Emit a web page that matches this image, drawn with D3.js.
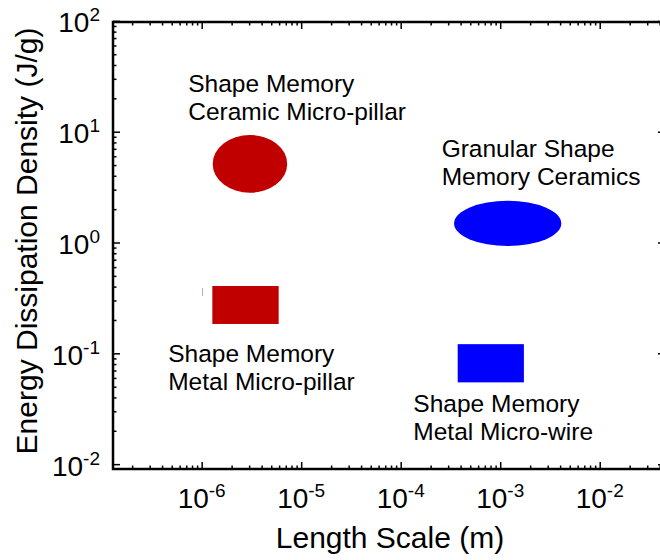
<!DOCTYPE html>
<html>
<head>
<meta charset="utf-8">
<script src="https://cdn.jsdelivr.net/npm/d3@7"></script>
<style>
  body { margin: 0; background: #fff; }
  text { font-family: "Liberation Sans", Arial, sans-serif; fill: #000; }
</style>
</head>
<body>
<div id="chart"></div>
<script>
// regions (length scale in m, energy in J/g)
var regionNames = ["Ceramic pillar", "Metal pillar", "Granular ceramics", "Metal wire"];
var regionShapes = ["ellipse", "rect", "ellipse", "rect"];
var regionColors = ["#c00000", "#c00000", "#0000ff", "#0000ff"];
var regionX = [[1.29e-6, 7.24e-6], [1.28e-6, 5.94e-6], [3.44e-4, 4.11e-3], [3.74e-4, 1.73e-3]];
var regionY = [[2.81, 9.34], [0.184, 0.405], [0.929, 2.38], [0.0547, 0.121]];

// little stray blue speck left of the red box
var speckX = [1.01e-6, 1.03e-6];
var speckY = [0.33, 0.39];

// annotation text, anchored at its first baseline in data units
var labelLines = [
  ["Shape Memory", "Ceramic Micro-pillar"],
  ["Granular Shape", "Memory Ceramics"],
  ["Shape Memory", "Metal Micro-pillar"],
  ["Shape Memory", "Metal Micro-wire"]
];
var labelX = [7.33e-7, 2.58e-4, 4.61e-7, 1.34e-4];
var labelY = [22.96, 5.94, 0.0839, 0.0297];

var xTickExp = [-6, -5, -4, -3, -2];
var yTickExp = [-2, -1, 0, 1, 2];
var xTitle = "Length Scale (m)";
var yTitle = "Energy Dissipation Density (J/g)";

var W = 660, H = 560;
var pLeft = 113, pRight = 665, pTop = 22, pBottom = 469;

var svg = d3.select("#chart").append("svg")
    .attr("width", W)
    .attr("height", H);

var x = d3.scaleLog()
    .domain([1.285e-7, 0.0453])
    .range([pLeft, pRight]);
var y = d3.scaleLog()
    .domain([0.00904, 97.7])
    .range([pBottom, pTop]);

//minor tick values 2..9 per decade
function minors(scale){
  var d = scale.domain(), out = [];
  for (var e = Math.floor(Math.log10(d[0])); e <= Math.ceil(Math.log10(d[1])); e++){
    for (var k = 2; k <= 9; k++){
      var v = k * Math.pow(10, e);
      if (v > d[0] && v < d[1]) out.push(v);
    }
  }
  return out;
}
var xMajor = xTickExp.map(function(e){ return Math.pow(10, e); });
var yMajor = yTickExp.map(function(e){ return Math.pow(10, e); });

function drawAxis(gen, tf, vals, size){
  var g = svg.append("g")
      .attr("transform", tf)
      .call(gen.tickValues(vals).tickSize(size).tickSizeOuter(0).tickFormat(""));
  g.select(".domain").remove();
  g.selectAll("line").attr("stroke", "#000").attr("stroke-width", 1.5);
}
// ticks point inward on all four sides
drawAxis(d3.axisBottom(x), "translate(0," + pBottom + ")", xMajor, -7);
drawAxis(d3.axisBottom(x), "translate(0," + pBottom + ")", minors(x), -3.5);
drawAxis(d3.axisTop(x), "translate(0," + pTop + ")", xMajor, -7);
drawAxis(d3.axisTop(x), "translate(0," + pTop + ")", minors(x), -3.5);
drawAxis(d3.axisLeft(y), "translate(" + pLeft + ",0)", yMajor, -7);
drawAxis(d3.axisLeft(y), "translate(" + pLeft + ",0)", minors(y), -3.5);
drawAxis(d3.axisRight(y), "translate(" + pRight + ",0)", yMajor, -7);
drawAxis(d3.axisRight(y), "translate(" + pRight + ",0)", minors(y), -3.5);

svg.append("rect")
    .attr("x", pLeft).attr("y", pTop)
    .attr("width", pRight - pLeft).attr("height", pBottom - pTop)
    .attr("fill", "none")
    .attr("stroke", "#000")
    .attr("stroke-width", 2.5);

// tick labels as 10 with superscript exponent
var xl = svg.append("g").selectAll("text").data(xTickExp).join("text")
    .attr("x", function(e){ return x(Math.pow(10, e)); })
    .attr("y", pBottom + 39)
    .attr("text-anchor", "middle")
    .style("font-size", "28px");
xl.append("tspan").text("10");
xl.append("tspan").attr("dy", -11).style("font-size", "19px").text(function(e){ return e; });

var yl = svg.append("g").selectAll("text").data(yTickExp).join("text")
    .attr("x", 100)
    .attr("y", function(e){ return y(Math.pow(10, e)) + 11.5; })
    .attr("text-anchor", "end")
    .style("font-size", "28px");
yl.append("tspan").text("10");
yl.append("tspan").attr("dy", -11).style("font-size", "19px").text(function(e){ return e; });

svg.append("text")
    .attr("x", 390).attr("y", 548)
    .attr("text-anchor", "middle")
    .style("font-size", "30px")
    .text(xTitle);
svg.append("text")
    .attr("transform", "translate(37,241) rotate(-90)")
    .attr("text-anchor", "middle")
    .style("font-size", "30px")
    .text(yTitle);

// the four regions
regionNames.forEach(function(name, i){
  var x0 = x(regionX[i][0]), x1 = x(regionX[i][1]);
  var y0 = y(regionY[i][1]), y1 = y(regionY[i][0]);
  if (regionShapes[i] === "ellipse"){
    svg.append("ellipse")
        .attr("cx", (x0 + x1) / 2).attr("cy", (y0 + y1) / 2)
        .attr("rx", (x1 - x0) / 2).attr("ry", (y1 - y0) / 2)
        .attr("fill", regionColors[i]);
  } else {
    svg.append("rect")
        .attr("x", x0).attr("y", y0)
        .attr("width", x1 - x0).attr("height", y1 - y0)
        .attr("fill", regionColors[i]);
  }
});
svg.append("rect")
    .attr("x", x(speckX[0])).attr("y", y(speckY[1]))
    .attr("width", x(speckX[1]) - x(speckX[0]))
    .attr("height", y(speckY[0]) - y(speckY[1]))
    .attr("fill", "#9a9aff");

// annotations
labelLines.forEach(function(lines, i){
  var t = svg.append("text")
      .attr("x", x(labelX[i]))
      .attr("y", y(labelY[i]))
      .style("font-size", "24.5px");
  lines.forEach(function(s, j){
    t.append("tspan")
        .attr("x", x(labelX[i]))
        .attr("dy", j === 0 ? 0 : 28)
        .text(s);
  });
});
</script>
</body>
</html>
